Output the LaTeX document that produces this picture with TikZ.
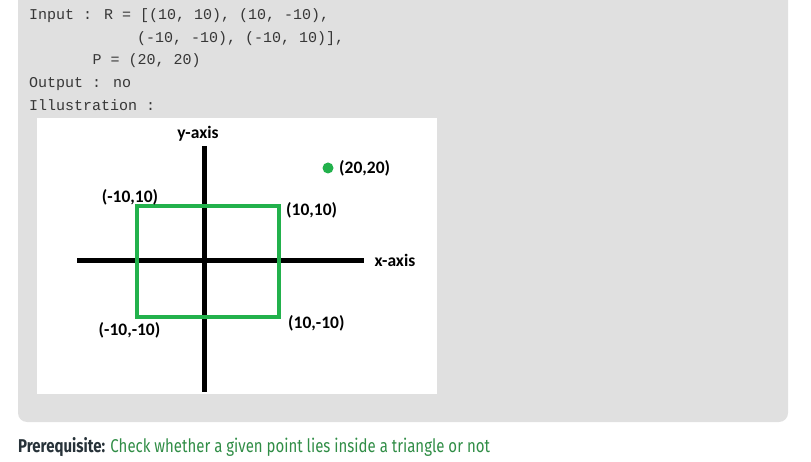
\documentclass[tikz,border=0pt]{standalone}
\usepackage{fontspec}
\setmainfont{Carlito}
\newfontfamily\codefont{Liberation Mono}
\newfontfamily\linkfont[FakeStretch=0.81]{Fira Sans}
\definecolor{panelgray}{RGB}{224,224,224}
\definecolor{boxgreen}{RGB}{34,177,76}
\definecolor{linkgreen}{RGB}{48,141,70}
\definecolor{codegray}{RGB}{55,55,55}
\definecolor{darktext}{RGB}{39,50,57}
\begin{document}
\begin{tikzpicture}[x=1pt, y=-1pt,
        code/.style={anchor=base west, inner sep=0pt, text=codegray, font=\codefont\fontsize{15}{15}\selectfont},
        pointlabel/.style={inner sep=0pt, font=\bfseries\fontsize{17.5}{17.5}\selectfont},
        axisline/.style={black, line width=5pt}]
        \useasboundingbox (0, 0) rectangle (811, 462);
        \fill[panelgray, rounded corners=9pt] (18, -20) rectangle (788, 422);

        \node[code] (input) at (29, 20) {Input : R = [(10, 10), (10, -10),};
        \node[code] (inputb) at (137, 42.5) {(-10, -10), (-10, 10)],};
        \node[code] (inputp) at (92.5, 65) {P = (20, 20)};
        \node[code] (output) at (29, 88) {Output : no};
        \node[code] (illus) at (29, 111) {Illustration :};

        \fill[white] (37, 118) rectangle (437, 394);

        \coordinate (xleft) at (77, 261);
        \coordinate (xright) at (364, 261);
        \coordinate (ytop) at (204, 146);
        \coordinate (ybottom) at (204, 392);
        \draw[axisline] (xleft) -- (xright);
        \draw[axisline] (ytop) -- (ybottom);
        \draw[boxgreen, line width=4pt] (137, 206) rectangle (279, 317);
        \fill[boxgreen] (328, 168) circle (5.5);

        \node[pointlabel] (ylabel) at (198, 134) {y-axis};
        \node[pointlabel] (xlabel) at (395, 260) {x-axis};
        \node[pointlabel, anchor=west] (pnt) at (339, 168) {(20,20)};
        \node[pointlabel] (ptl) at (130, 197) {(-10,10)};
        \node[pointlabel, anchor=west] (ptr) at (286, 210) {(10,10)};
        \node[pointlabel] (pbl) at (129.5, 330) {(-10,-10)};
        \node[pointlabel, anchor=west] (pbr) at (288, 323) {(10,-10)};

        \node[anchor=base west, inner sep=0pt, font=\linkfont\fontsize{18.5}{18.5}\selectfont] (prereq) at (18, 452)
            {\textcolor{darktext}{\bfseries Prerequisite:} \textcolor{linkgreen}{Check whether a given point lies inside a triangle or not}};
    \end{tikzpicture}
\end{document}
